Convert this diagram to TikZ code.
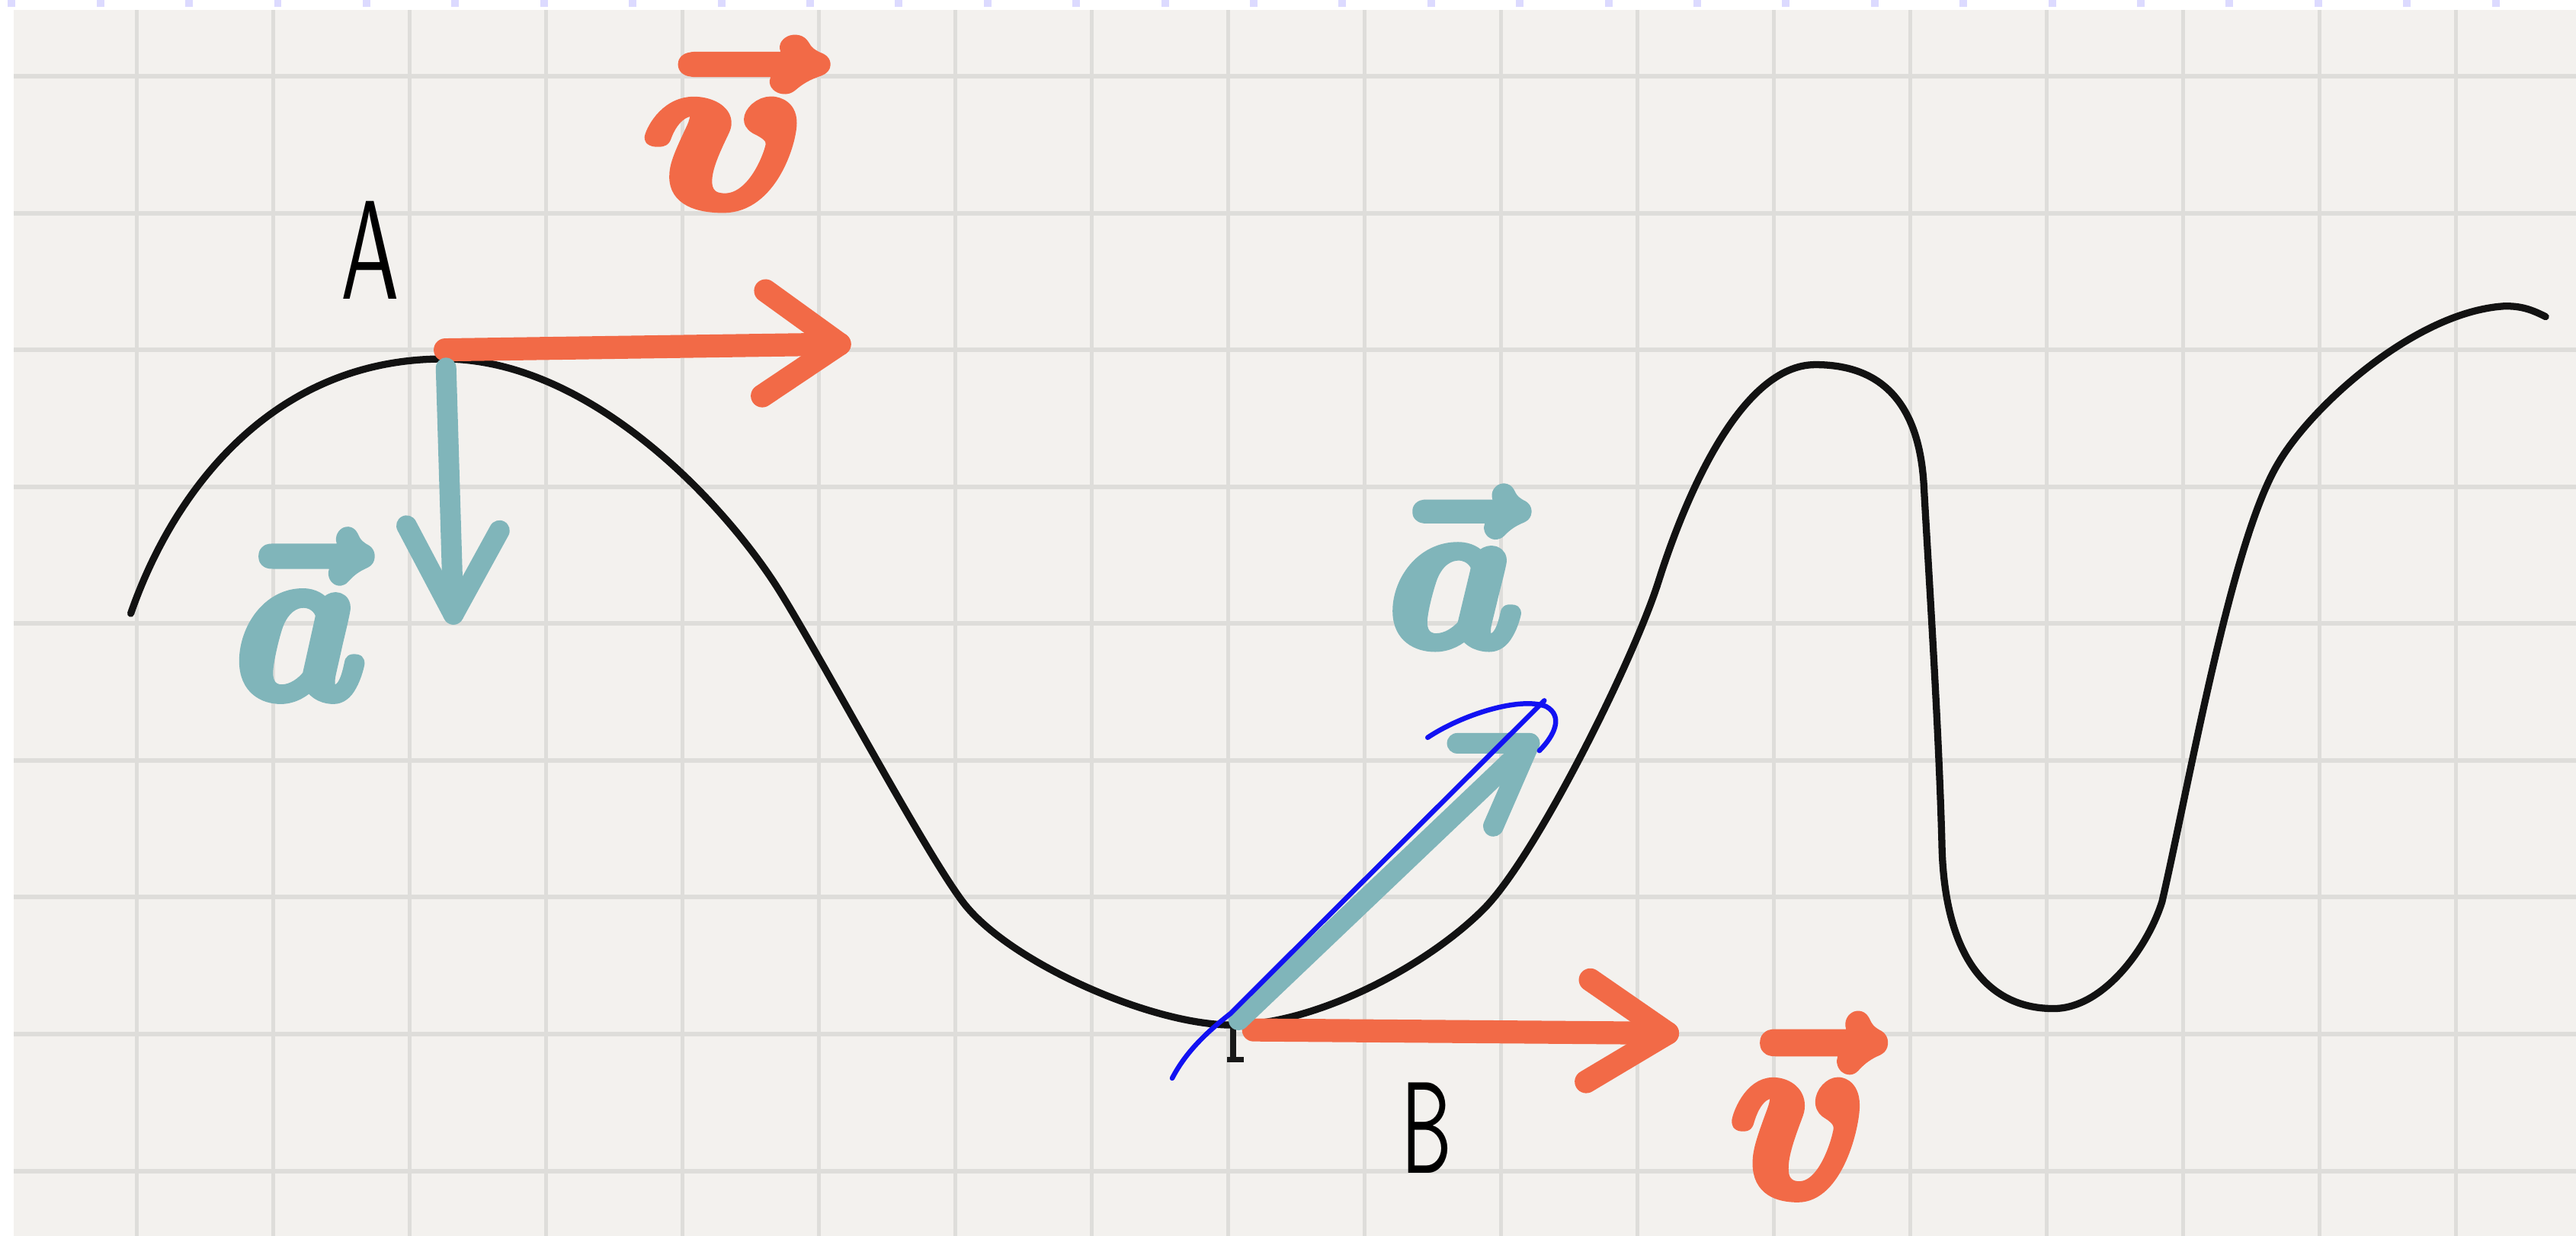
\documentclass[tikz,border=0pt]{standalone}
\usepackage{amsmath}
\usepackage{graphicx}
\definecolor{paper}{HTML}{F3F1EE}
\definecolor{gridc}{HTML}{DEDDDA}
\definecolor{tickc}{HTML}{DCDAFF}
\definecolor{vel}{HTML}{F26A47}
\definecolor{acc}{HTML}{80B5BA}
\definecolor{pen}{HTML}{1212F2}
\newcommand{\heavyink}[2]{\special{pdf:literal direct 1 j 1 J #1 w 2 Tr}#2\special{pdf:literal direct 0 Tr}}
\begin{document}
\begin{tikzpicture}[x=1pt,y=-1pt,
  curve/.style={line width=4.3pt, black!93, line cap=round, line join=round},
  velarrow/.style={line width=14pt, vel, line cap=round, line join=round},
  accarrow/.style={line width=12.5pt, acc, line cap=round, line join=round},
  penline/.style={line width=3pt, pen, line cap=round, line join=round},
  lbl/.style={inner sep=0pt, outer sep=0pt, anchor=north west}]
\useasboundingbox (0,0) rectangle (1568,752.45);
\fill[white] (0,0) rectangle (1568,752.45);
\fill[paper] (8.5,6.2) rectangle (1568,752.45);
\foreach \k in {0,...,17} \draw[gridc, line width=2.2pt] ({83.3+83.03*\k},6.2) -- ({83.3+83.03*\k},752.45);
\foreach \k in {0,...,8} \draw[gridc, line width=2.8pt] (8.5,{46.4+83.3*\k}) -- (1568,{46.4+83.3*\k});
\foreach \k in {0,...,28} \fill[tickc] ({7.1+54*\k-2.3},0) rectangle ({7.1+54*\k+2.3},4.3);

% track
\draw[curve] (79.6,373.5) .. controls (105,300) and (165,218.5) .. (270,218.5)
 .. controls (360,218.5) and (442,308) .. (474,359)
 .. controls (500.5,401.4) and (562,517) .. (586,549)
 .. controls (613,585) and (700,624) .. (750,624)
 .. controls (800,624) and (867.6,588.9) .. (903,553.5)
 .. controls (934.8,521.7) and (994.5,401.5) .. (1009.5,354)
 .. controls (1026,301.8) and (1060,222) .. (1105,222)
 .. controls (1145,222) and (1168,245) .. (1171,295)
 .. controls (1174,350) and (1180,440) .. (1182,513)
 .. controls (1183,575) and (1205,614) .. (1250,614)
 .. controls (1280,614) and (1307,577.5) .. (1316,549)
 .. controls (1332,480) and (1358,330) .. (1386.5,282.4)
 .. controls (1406.5,247.6) and (1470,190) .. (1523.9,186.4)
 .. controls (1535,186) and (1542,189) .. (1549.5,192.8);

\coordinate (A) at (271,213);
\coordinate (B) at (763,627);
\coordinate (vAtip) at (511,209.5);
\coordinate (aAstart) at (271.5,224);
\coordinate (aAtip) at (276,374);
\coordinate (vBtip) at (1015,629);
\coordinate (aBstart) at (754,621);
\coordinate (aBtip) at (931,452.5);

% tick mark at B
\draw[black!90, line width=3.5pt] (750.5,626) -- (750.5,645);
\draw[black!90, line width=3.5pt] (747,645) -- (757,645);

% velocity arrows
\draw[velarrow] (A) -- (vAtip);
\draw[velarrow] (466,177) -- (vAtip) -- (464,241);
\draw[velarrow] (B) -- (vBtip);
\draw[velarrow] (968,596.5) -- (vBtip) -- (965.5,658.5);

% acceleration arrows
\draw[accarrow] (aAstart) -- (aAtip);
\draw[accarrow] (247.5,320) -- (aAtip) -- (304,323);
\draw[accarrow] (aBstart) -- (aBtip);
\draw[accarrow] (887,452.5) -- (aBtip) -- (909,503);

% labels
\node[lbl] (labA) at (207.7,122.5) {\resizebox{35.5pt}{59.5pt}{\sffamily A}};
\node[lbl] (labB) at (852.7,659) {\resizebox{31pt}{55pt}{\sffamily B}};
\node[lbl, text=vel] (labv1) at (391,24.5) {\resizebox{100pt}{100.5pt}{\heavyink{0.5}{$\boldsymbol{\vec{v}}$}}};
\node[lbl, text=vel] (labv2) at (1053,619) {\resizebox{84pt}{108pt}{\heavyink{0.5}{$\boldsymbol{\vec{v}}$}}};
\node[lbl, text=acc] (laba1) at (143,324) {\resizebox{80pt}{100pt}{\heavyink{0.5}{$\boldsymbol{\vec{a}}$}}};
\node[lbl, text=acc] (laba2) at (845,297.5) {\resizebox{82pt}{95pt}{\heavyink{0.5}{$\boldsymbol{\vec{a}}$}}};

% blue pen stroke
\coordinate (p0) at (713.5,656.4);
\coordinate (p1) at (749,617);
\coordinate (p2) at (940,426.5);
\draw[penline] (p0) .. controls (722,640) and (735,628) .. (p1) -- (p2);
\coordinate (h0) at (869,449);
\coordinate (h1) at (941,430);
\coordinate (h2) at (937,457);
\draw[penline] (h0) .. controls (890,435) and (925,424) .. (h1) .. controls (952,436) and (946,448) .. (h2);
\end{tikzpicture}
\end{document}
